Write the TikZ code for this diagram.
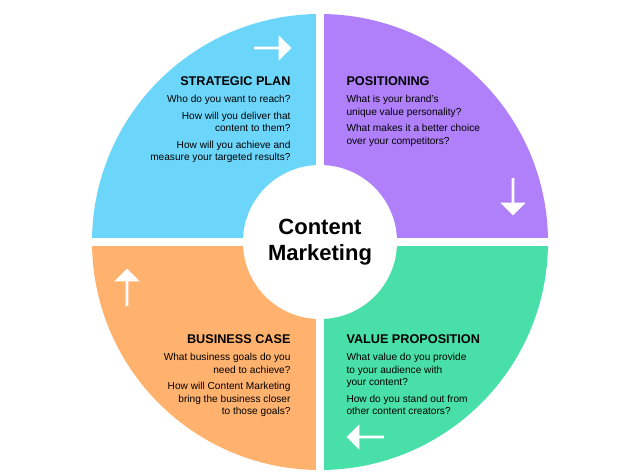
\documentclass[tikz,border=0pt]{standalone}
\usepackage{fontspec}
\setmainfont{Liberation Sans}
\usetikzlibrary{shapes.arrows}
\definecolor{cblue}{RGB}{108,214,250}
\definecolor{cpurple}{RGB}{176,128,250}
\definecolor{cgreen}{RGB}{72,224,168}
\definecolor{corange}{RGB}{255,178,110}
\tikzset{every picture/.style={line width=0.75pt},
  head/.style={inner sep=0.75pt,font=\fontsize{9.5}{11}\selectfont\bfseries},
  body/.style={inner sep=0.75pt,font=\fontsize{7.6}{9.4}\selectfont},
  warrow/.style={single arrow,fill=white,draw=none,minimum height=28pt,minimum width=19pt,single arrow head extend=3pt,inner sep=0pt,single arrow tip angle=90}}
\begin{document}
\begin{tikzpicture}[x=0.75pt,y=0.75pt,yscale=-1,xscale=1]
\useasboundingbox (0,0) rectangle (640,475);
%Quadrants
\begin{scope}\clip (90,10) rectangle (320,242); \fill [cblue] (320,242) circle (228); \end{scope}
\begin{scope}\clip (320,10) rectangle (550,242); \fill [cpurple] (320,242) circle (228); \end{scope}
\begin{scope}\clip (320,242) rectangle (550,474); \fill [cgreen] (320,242) circle (228); \end{scope}
\begin{scope}\clip (90,242) rectangle (320,474); \fill [corange] (320,242) circle (228); \end{scope}
%Gaps
\draw [white,line width=6pt] (320,10) -- (320,474) (88,242) -- (552,242);
%Centre
\fill [white] (320,242) circle (77);
\node (centre) at (320,242) [align=center,inner sep=0pt,font=\fontsize{16.5}{20}\selectfont\bfseries] {Content\\Marketing};
%Arrows
\node (a1) at (272,48) [warrow] {};
\node (a2) at (513,196) [warrow,rotate=-90] {};
\node (a3) at (366,437) [warrow,rotate=180] {};
\node (a4) at (127,288) [warrow,rotate=90] {};
% Text Node
\node (plan) at (292,81) [anchor=east,head] {STRATEGIC PLAN};
\node (plantxt) at (292,94) [anchor=north east,align=right,body] {Who do you want to reach?\\[3pt]How will you deliver that\\content to them?\\[3pt]How will you achieve and\\measure your targeted results?};
% Text Node
\node (pos) at (345,81) [anchor=west,head] {POSITIONING};
\node (postxt) at (345,94) [anchor=north west,align=left,body] {What is your brand's\\unique value personality?\\[3pt]What makes it a better choice\\over your competitors?};
% Text Node
\node (case) at (292,339) [anchor=east,head] {BUSINESS CASE};
\node (casetxt) at (292,352) [anchor=north east,align=right,body] {What business goals do you\\need to achieve?\\[3pt]How will Content Marketing\\bring the business closer\\to those goals?};
% Text Node
\node (val) at (345,339) [anchor=west,head] {VALUE PROPOSITION};
\node (valtxt) at (345,352) [anchor=north west,align=left,body] {What value do you provide\\to your audience with\\your content?\\[3pt]How do you stand out from\\other content creators?};
\end{tikzpicture}
\end{document}
